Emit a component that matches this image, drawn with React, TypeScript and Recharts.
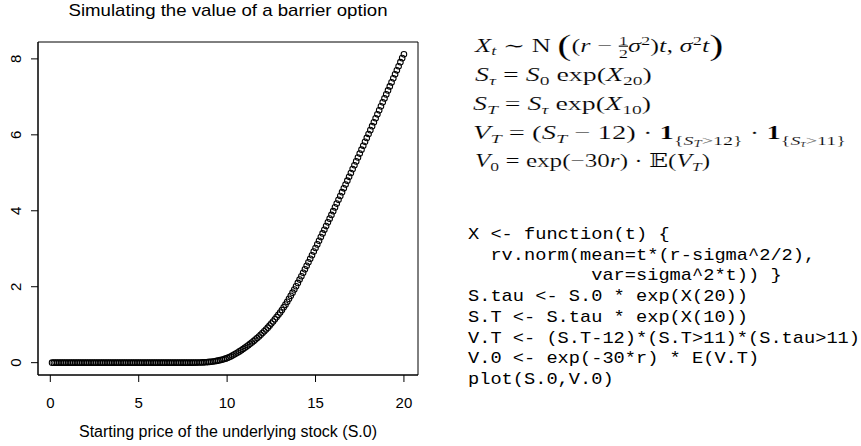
import React, { useLayoutEffect, useRef, useState } from 'react'
import { ScatterChart, Scatter, XAxis, YAxis, ReferenceArea } from 'recharts'

// S.0 grid used in the simulation
const startPrices = [
  0.1, 0.2, 0.3, 0.4, 0.5, 0.6, 0.7, 0.8, 0.9, 1.0,
  1.1, 1.2, 1.3, 1.4, 1.5, 1.6, 1.7, 1.8, 1.9, 2.0,
  2.1, 2.2, 2.3, 2.4, 2.5, 2.6, 2.7, 2.8, 2.9, 3.0,
  3.1, 3.2, 3.3, 3.4, 3.5, 3.6, 3.7, 3.8, 3.9, 4.0,
  4.1, 4.2, 4.3, 4.4, 4.5, 4.6, 4.7, 4.8, 4.9, 5.0,
  5.1, 5.2, 5.3, 5.4, 5.5, 5.6, 5.7, 5.8, 5.9, 6.0,
  6.1, 6.2, 6.3, 6.4, 6.5, 6.6, 6.7, 6.8, 6.9, 7.0,
  7.1, 7.2, 7.3, 7.4, 7.5, 7.6, 7.7, 7.8, 7.9, 8.0,
  8.1, 8.2, 8.3, 8.4, 8.5, 8.6, 8.7, 8.8, 8.9, 9.0,
  9.1, 9.2, 9.3, 9.4, 9.5, 9.6, 9.7, 9.8, 9.9, 10.0,
  10.1, 10.2, 10.3, 10.4, 10.5, 10.6, 10.7, 10.8, 10.9, 11.0,
  11.1, 11.2, 11.3, 11.4, 11.5, 11.6, 11.7, 11.8, 11.9, 12.0,
  12.1, 12.2, 12.3, 12.4, 12.5, 12.6, 12.7, 12.8, 12.9, 13.0,
  13.1, 13.2, 13.3, 13.4, 13.5, 13.6, 13.7, 13.8, 13.9, 14.0,
  14.1, 14.2, 14.3, 14.4, 14.5, 14.6, 14.7, 14.8, 14.9, 15.0,
  15.1, 15.2, 15.3, 15.4, 15.5, 15.6, 15.7, 15.8, 15.9, 16.0,
  16.1, 16.2, 16.3, 16.4, 16.5, 16.6, 16.7, 16.8, 16.9, 17.0,
  17.1, 17.2, 17.3, 17.4, 17.5, 17.6, 17.7, 17.8, 17.9, 18.0,
  18.1, 18.2, 18.3, 18.4, 18.5, 18.6, 18.7, 18.8, 18.9, 19.0,
  19.1, 19.2, 19.3, 19.4, 19.5, 19.6, 19.7, 19.8, 19.9, 20.0,
]

// V.0
const optionValues = [
  0, 0, 0, 0, 0, 0, 0, 0, 0, 0,
  0, 0, 0, 0, 0, 0, 0, 0, 0, 0,
  0, 0, 0, 0, 0, 0, 0, 0, 0, 0,
  0, 0, 0, 0, 0, 0, 0, 0, 0, 0,
  0, 0, 0, 0, 0, 0, 0, 0, 0, 0,
  0, 0, 0, 0, 0, 0, 0, 0, 0, 0,
  0, 0, 0, 0, 0, 0, 0, 0, 0, 0,
  0, 0, 0, 0, 0, 0, 0, 0, 0, 0,
  0.001, 0.002, 0.003, 0.004, 0.005, 0.007, 0.009, 0.012, 0.016, 0.02,
  0.025, 0.031, 0.038, 0.046, 0.055, 0.066, 0.078, 0.091, 0.105, 0.12,
  0.141, 0.163, 0.187, 0.212, 0.24, 0.268, 0.297, 0.327, 0.358, 0.39,
  0.424, 0.459, 0.495, 0.532, 0.57, 0.609, 0.649, 0.69, 0.734, 0.78,
  0.826, 0.873, 0.922, 0.975, 1.03, 1.085, 1.142, 1.2, 1.26, 1.32,
  1.388, 1.457, 1.528, 1.603, 1.68, 1.76, 1.843, 1.927, 2.013, 2.1,
  2.188, 2.277, 2.367, 2.458, 2.55, 2.643, 2.736, 2.83, 2.925, 3.02,
  3.115, 3.211, 3.307, 3.403, 3.5, 3.597, 3.695, 3.793, 3.891, 3.99,
  4.089, 4.189, 4.289, 4.389, 4.49, 4.591, 4.692, 4.793, 4.894, 4.995,
  5.097, 5.199, 5.301, 5.403, 5.506, 5.609, 5.712, 5.815, 5.918, 6.021,
  6.124, 6.228, 6.332, 6.436, 6.54, 6.645, 6.75, 6.855, 6.96, 7.065,
  7.17, 7.275, 7.381, 7.487, 7.593, 7.699, 7.806, 7.913, 8.02, 8.12,
]

const xTicks = [0, 5, 10, 15, 20]
const yTicks = [0, 2, 4, 6, 8]
const xDomain = [-0.696, 20.796]
const yDomain = [-0.3248, 8.4448]

const chartTitle = 'Simulating the value of a barrier option'
const xAxisLabel = 'Starting price of the underlying stock (S.0)'

const codeLines = [
  'X <- function(t) {',
  '  rv.norm(mean=t*(r-sigma^2/2),',
  '           var=sigma^2*t)) }',
  'S.tau <- S.0 * exp(X(20))',
  'S.T <- S.tau * exp(X(10))',
  'V.T <- (S.T-12)*(S.T>11)*(S.tau>11)',
  'V.0 <- exp(-30*r) * E(V.T)',
  'plot(S.0,V.0)',
]

const data = startPrices.map((s, i) => ({ s, v: optionValues[i] }))

const sans = '"Liberation Sans", Arial, Helvetica, sans-serif'
const serif = '"Liberation Serif", "DejaVu Serif", serif'
const mono = '"Liberation Mono", "DejaVu Sans Mono", monospace'

// stretch a text group horizontally so it spans `width` pixels
function Fit({ x, y, width, children }: any) {
  const ref = useRef<SVGGElement>(null)
  const [sx, setSx] = useState(1)
  useLayoutEffect(() => {
    const box = ref.current?.getBBox()
    if (box && box.width > 0) setSx(width / box.width)
  }, [width])
  return (
    <g transform={`translate(${x} ${y}) scale(${sx} 1)`}>
      <g ref={ref}>{children}</g>
    </g>
  )
}

const it = { fontStyle: 'italic' as const }
const SUB = 13

function Formulas() {
  return (
    <g fontFamily={serif} fontSize={18.6} fill="#000" stroke="#fff" strokeWidth={0.15}>
      <Fit x={475} y={52} width={250}>
        <text xmlSpace="preserve">
          <tspan {...it}>X</tspan>
          <tspan {...it} fontSize={SUB} dy={3}>t</tspan>
          <tspan dy={-3}>{' ∼ N '}</tspan>
          <tspan fontSize={30} dy={3}>(</tspan>
          <tspan dy={-3}>(</tspan>
          <tspan {...it}>r</tspan>
          <tspan>{' − '}</tspan>
          <tspan fontSize={SUB} dy={-7.3} textDecoration="underline">1</tspan>
          <tspan fontSize={SUB} dx={-6.5} dy={13.7}>2</tspan>
          <tspan {...it} dy={-6.4}>σ</tspan>
          <tspan fontSize={SUB} dy={-7}>2</tspan>
          <tspan dy={7}>)</tspan>
          <tspan {...it}>t</tspan>
          <tspan>{', '}</tspan>
          <tspan {...it}>σ</tspan>
          <tspan fontSize={SUB} dy={-7}>2</tspan>
          <tspan {...it} dy={7}>t</tspan>
          <tspan fontSize={30} dy={3}>)</tspan>
        </text>
      </Fit>
      <Fit x={475} y={81} width={177}>
        <text xmlSpace="preserve">
          <tspan {...it}>S</tspan>
          <tspan {...it} fontSize={SUB} dy={4}>τ</tspan>
          <tspan dy={-4}>{' = '}</tspan>
          <tspan {...it}>S</tspan>
          <tspan fontSize={SUB} dy={4}>0</tspan>
          <tspan dy={-4}>{' exp('}</tspan>
          <tspan {...it}>X</tspan>
          <tspan fontSize={SUB} dy={4}>20</tspan>
          <tspan dy={-4}>)</tspan>
        </text>
      </Fit>
      <Fit x={473} y={110} width={178}>
        <text xmlSpace="preserve">
          <tspan {...it}>S</tspan>
          <tspan {...it} fontSize={SUB} dy={4}>T</tspan>
          <tspan dy={-4}>{' = '}</tspan>
          <tspan {...it}>S</tspan>
          <tspan {...it} fontSize={SUB} dy={4}>τ</tspan>
          <tspan dy={-4}>{' exp('}</tspan>
          <tspan {...it}>X</tspan>
          <tspan fontSize={SUB} dy={4}>10</tspan>
          <tspan dy={-4}>)</tspan>
        </text>
      </Fit>
      <Fit x={473} y={139} width={373}>
        <text xmlSpace="preserve">
          <tspan {...it}>V</tspan>
          <tspan {...it} fontSize={SUB} dy={4}>T</tspan>
          <tspan dy={-4}>{' = ('}</tspan>
          <tspan {...it}>S</tspan>
          <tspan {...it} fontSize={SUB} dy={4}>T</tspan>
          <tspan dy={-4}>{' − 12) · '}</tspan>
          <tspan fontWeight="bold">1</tspan>
          <tspan fontSize={SUB} dy={6}>{'{'}</tspan>
          <tspan {...it} fontSize={SUB}>S</tspan>
          <tspan {...it} fontSize={9.5} dy={2.5}>T</tspan>
          <tspan fontSize={SUB} dy={-2.5}>{'>12}'}</tspan>
          <tspan dy={-6}>{' · '}</tspan>
          <tspan fontWeight="bold">1</tspan>
          <tspan fontSize={SUB} dy={6}>{'{'}</tspan>
          <tspan {...it} fontSize={SUB}>S</tspan>
          <tspan {...it} fontSize={9.5} dy={2.5}>τ</tspan>
          <tspan fontSize={SUB} dy={-2.5}>{'>11}'}</tspan>
        </text>
      </Fit>
      <Fit x={475} y={167} width={235}>
        <text xmlSpace="preserve">
          <tspan {...it}>V</tspan>
          <tspan fontSize={SUB} dy={4}>0</tspan>
          <tspan dy={-4}>{' = exp(−30'}</tspan>
          <tspan {...it}>r</tspan>
          <tspan>{') · '}</tspan>
          <tspan fontFamily='"DejaVu Serif", "DejaVu Sans", serif'>𝔼</tspan>
          <tspan>(</tspan>
          <tspan {...it}>V</tspan>
          <tspan {...it} fontSize={SUB} dy={4}>T</tspan>
          <tspan dy={-4}>)</tspan>
        </text>
      </Fit>
    </g>
  )
}

function renderYTick(props: any) {
  const { y, payload } = props
  return (
    <text
      x={21}
      y={y}
      transform={`rotate(-90, 21, ${y})`}
      textAnchor="middle"
      fontFamily={sans}
      fontSize={15}
      fill="#000"
    >
      {payload.value}
    </text>
  )
}

const openCircle = (p: any) => (
  <circle cx={p.cx} cy={p.cy} r={2.8} fill="none" stroke="#000" strokeWidth={1.05} />
)

export default function App() {
  return (
    <div style={{ position: 'absolute', left: 0, top: 0, width: 861, height: 446, background: '#fff' }}>
      <div style={{ position: 'absolute', left: 0, top: 0 }}>
        <ScatterChart width={861} height={446} margin={{ top: 42, right: 443, bottom: 21, left: 8 }}>
          <XAxis
            type="number"
            dataKey="s"
            domain={xDomain}
            allowDataOverflow
            ticks={xTicks}
            interval={0}
            height={50}
            tickSize={7}
            tickMargin={15}
            stroke="#000"
            tick={{ fill: '#000', fontSize: 15, fontFamily: sans }}
          />
          <YAxis
            type="number"
            dataKey="v"
            domain={yDomain}
            allowDataOverflow
            ticks={yTicks}
            interval={0}
            width={30}
            tickSize={7}
            stroke="#000"
            tick={renderYTick}
          />
          <ReferenceArea
            x1={xDomain[0]}
            x2={xDomain[1]}
            y1={yDomain[0]}
            y2={yDomain[1]}
            fill="none"
            fillOpacity={0}
            stroke="#000"
            strokeWidth={1}
          />
          <Scatter data={data} isAnimationActive={false} shape={openCircle} />
        </ScatterChart>
      </div>
      <svg width={861} height={446} style={{ position: 'absolute', left: 0, top: 0 }}>
        <text
          x={228}
          y={16}
          textAnchor="middle"
          fontFamily={sans}
          fontSize={17}
          textLength={319}
          lengthAdjust="spacingAndGlyphs"
        >
          {chartTitle}
        </text>
        <text
          x={228}
          y={437}
          textAnchor="middle"
          fontFamily={sans}
          fontSize={16}
          textLength={298}
          lengthAdjust="spacingAndGlyphs"
        >
          {xAxisLabel}
        </text>
        <Formulas />
        <g fontFamily={mono} fontSize={17} fill="#000">
          {codeLines.map((line, i) => (
            <text
              key={i}
              x={468}
              y={239 + i * 20.7}
              xmlSpace="preserve"
              textLength={line.length * 11.2}
              lengthAdjust="spacingAndGlyphs"
            >
              {line}
            </text>
          ))}
        </g>
      </svg>
    </div>
  )
}
